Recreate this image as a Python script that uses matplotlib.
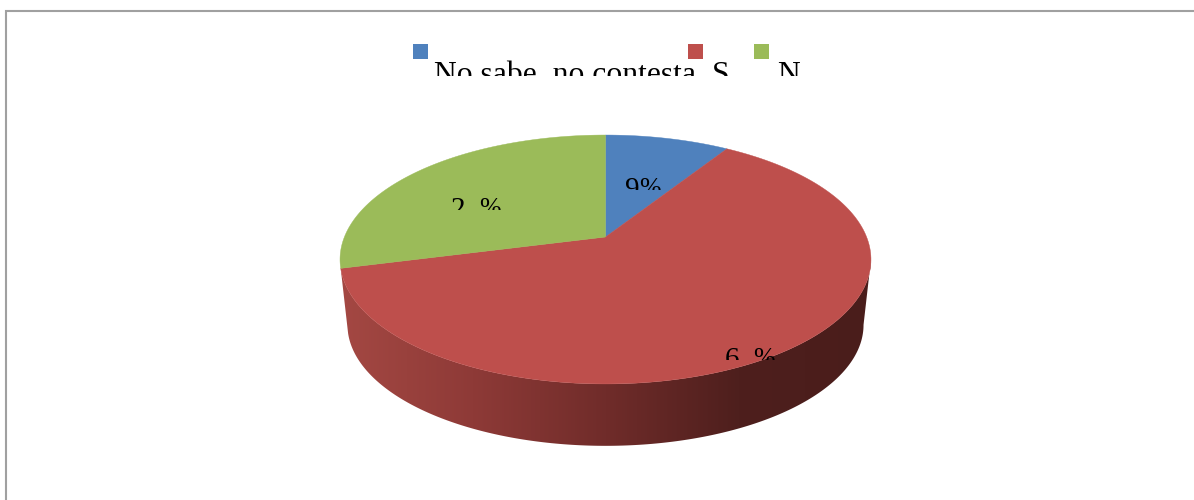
import numpy as np
import matplotlib
matplotlib.use('Agg')
import matplotlib.pyplot as plt
from matplotlib.colors import LinearSegmentedColormap
from matplotlib.patches import Polygon, Rectangle

categories = ['No sabe, no contesta', 'S', 'N']
values = [9, 62, 29]
slice_digits = ['9', '6', '2']
colors = ['#4F81BD', '#BE4F4C', '#9BBB59']

plt.rcParams['font.family'] = ['Liberation Serif', 'DejaVu Serif']

# pie geometry, in pixels of the picture
cx, apex_y = 605.5, 237
a, b, k = 261.1, 120.4, 0.1807
depth_scale, depth_shift = 0.972, 66


def rim(theta, scale=1.0, shift=0.0):
    # theta runs clockwise from the top of the pie
    x, y = np.sin(theta), np.cos(theta)
    w = 1 + k * y
    return np.column_stack((cx + scale * a * x / w, apex_y + shift - scale * b * y / w))


fig = plt.figure(figsize=(11.94, 5.0), dpi=100)
ax = fig.add_axes([0, 0, 1, 1])

# side of the pie, only the red slice shows at the front
edges = np.cumsum([0] + values) / sum(values) * 2 * np.pi
front = np.linspace(np.arccos(-k), edges[2], 200)
side = np.vstack((rim(front), rim(front[::-1], depth_scale, depth_shift)))
cmap = LinearSegmentedColormap.from_list('side', [
    (0.0, '#A44843'), (0.25, '#8E3A37'), (0.5, '#702C2A'),
    (0.75, '#4E1F1D'), (1.0, '#4A1D1B')])
img = ax.imshow(np.linspace(0, 1, 256)[None, :], cmap=cmap, aspect='auto',
                extent=(340, 872, 450, 250), zorder=1)
img.set_clip_path(Polygon(side, closed=True, transform=ax.transData))

# top faces
for start, end, color in zip(edges[:-1], edges[1:], colors):
    theta = np.linspace(start, end, 200)
    pts = np.vstack(([[cx, apex_y]], rim(theta)))
    ax.add_patch(Polygon(pts, closed=True, facecolor=color, edgecolor=color,
                         linewidth=0.3, zorder=2))


def cut_text(x, y, s, size, clip_y):
    # the text in the picture is cut off below clip_y
    t = ax.text(x, y, s, fontsize=size, color='black', ha='left', va='baseline', zorder=4)
    t.set_clip_path(Rectangle((0, 0), 1194, clip_y, transform=ax.transData))
    t.set_clip_on(True)


# slice labels: a large digit and a smaller percent sign, the second digit is lost
for s, (x, pct_x, top) in zip(slice_digits, [(625, 639, 177), (725, 753, 347), (451, 479, 197)]):
    cut_text(x, top + 20, s, 21, top + 13)
    cut_text(pct_x, top + 18, '%', 18.5, top + 13)

# legend
for color, label, box_x, text_x in zip(colors, categories, [413, 688, 754], [434, 712, 777]):
    ax.add_patch(Rectangle((box_x, 44), 15, 15, facecolor=color, edgecolor='none', zorder=3))
    cut_text(text_x, 83, label, 22.8, 76)

# chart frame, cut by the picture at the right and the bottom
ax.plot([6, 6, 1194], [500, 11, 11], color='#A0A0A0', linewidth=1.5, solid_joinstyle='miter', zorder=5)

ax.set_xlim(0, 1194)
ax.set_ylim(500, 0)
ax.axis('off')

fig.savefig('out.png', dpi=100, facecolor='white')
